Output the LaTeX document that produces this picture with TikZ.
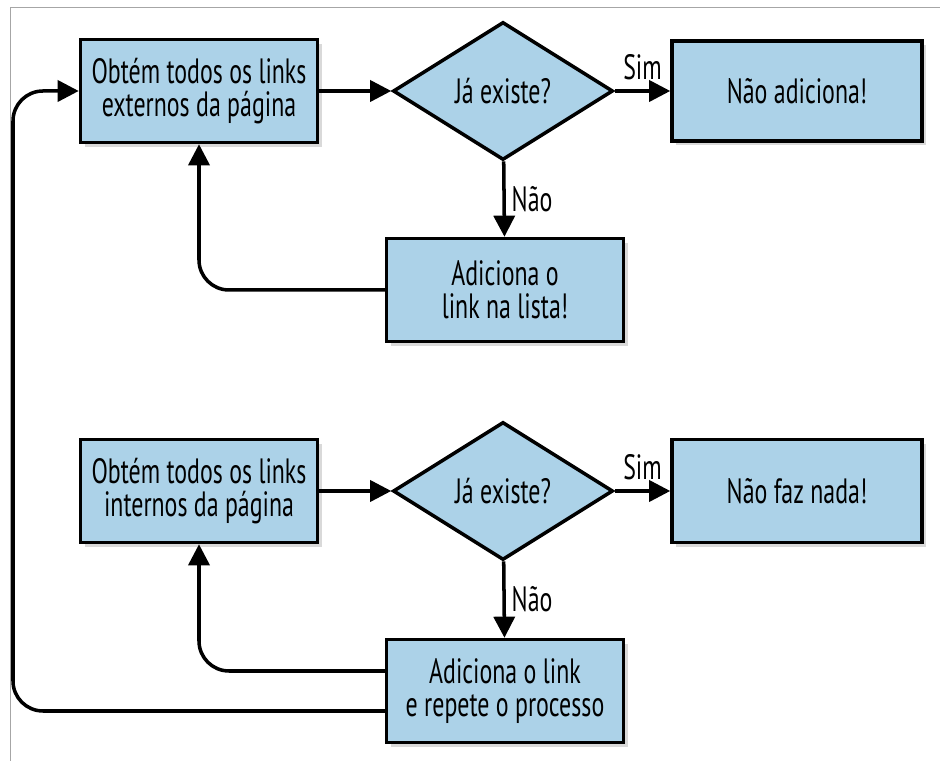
\documentclass[tikz,border=0pt]{standalone}
\usepackage{fontspec}
\setmainfont{PT Sans}[FakeStretch=0.68]
\usepackage{tikz}
\usetikzlibrary{shapes.geometric,arrows.meta,shadows}
\definecolor{caixa}{RGB}{172,210,232}

\begin{document}
\begin{tikzpicture}[auto,
    font=\fontsize{20}{19}\selectfont,
    passo/.style={draw, line width=2pt, fill=caixa, align=center,
      minimum width=4.74cm, minimum height=2.06cm, inner sep=2pt,
      drop shadow={opacity=0.3, shadow xshift=2.5pt, shadow yshift=-2.5pt}},
    teste/.style={draw, diamond, line width=2pt, fill=caixa, align=center,
      minimum width=4.4cm, minimum height=2.76cm, inner sep=0pt},
    seta/.style={line width=2pt, -{Triangle[length=12pt, width=12pt]}},
    volta/.style={seta, rounded corners=0.6cm}]
    \useasboundingbox (0, 0) rectangle (18.8, 15.22);
    \draw [gray!70, line width=0.5pt] (18.8, 15.08) -- (0.2, 15.08) -- (0.2, 0);
    % parte de cima
    \node [passo] (ext) at (3.98, 13.4) {Obtém todos os links\\externos da página};
    \node [teste] (q1) at (10.06, 13.4) {Já existe?};
    \node [passo, minimum width=5cm, minimum height=2cm] (nao1) at (15.94, 13.4) {Não adiciona!};
    \node [passo] (lista) at (10.1, 9.42) {Adiciona o\\link na lista!};
    % parte de baixo
    \node [passo] (int) at (3.98, 5.4) {Obtém todos os links\\internos da página};
    \node [teste] (q2) at (10.06, 5.4) {Já existe?};
    \node [passo, minimum width=5cm] (nao2) at (15.94, 5.4) {Não faz nada!};
    \node [passo] (repete) at (10.1, 1.4) {Adiciona o link\\e repete o processo};
    \coordinate (esq) at (0.26, 13.4);
    \draw [seta] (ext) to node {} (q1);
    \draw [seta] (q1) to node [yshift=2pt] {Sim} (nao1);
    \draw [seta] (q1) to node {Não} (lista);
    \draw [volta] (lista.west) -| (ext.south);
    \draw [seta] (int) to node {} (q2);
    \draw [seta] (q2) to node [yshift=2pt] {Sim} (nao2);
    \draw [seta] (q2) to node {Não} (repete);
    \draw [volta] ([yshift=0.4cm]repete.west) -| (int.south);
    \draw [volta] ([yshift=-0.4cm]repete.west) -| (esq) -- (ext.west);
  \end{tikzpicture}
\end{document}
